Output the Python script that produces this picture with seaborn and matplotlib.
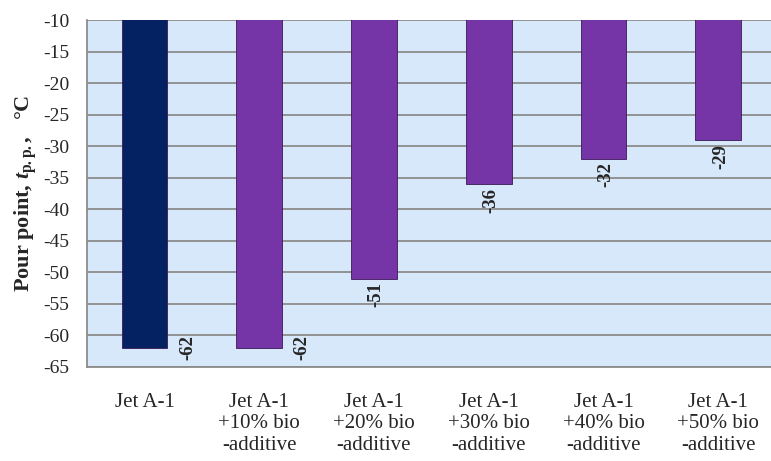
import matplotlib
matplotlib.use("Agg")
import matplotlib.pyplot as plt
import seaborn as sns

# chart data
categories = [
    "Jet A-1",
    "Jet A-1\n+10% bio\n-additive",
    "Jet A-1\n+20% bio\n-additive",
    "Jet A-1\n+30% bio\n-additive",
    "Jet A-1\n+40% bio\n-additive",
    "Jet A-1\n+50% bio\n-additive",
]
pour_point = [-62, -62, -51, -36, -32, -29]
bar_colors = ["#042262", "#7535A6", "#7535A6", "#7535A6", "#7535A6", "#7535A6"]
y_ticks = list(range(-65, -9, 5))

sns.set_style("white")
plt.rcParams["font.family"] = ["Liberation Serif", "DejaVu Serif"]
plt.rcParams["mathtext.fontset"] = "custom"
plt.rcParams["mathtext.it"] = "Liberation Serif:italic:bold"
plt.rcParams["mathtext.bf"] = "Liberation Serif:bold"
plt.rcParams["mathtext.rm"] = "Liberation Serif"

fig = plt.figure(figsize=(7.71, 4.61), dpi=100)
ax = fig.add_axes([0.113, 0.204, 0.893, 0.7526])
ax.set_facecolor("#D6E8FA")

sns.barplot(x=categories, y=pour_point, hue=categories, palette=bar_colors,
            saturation=1, legend=False, width=0.4, ax=ax,
            edgecolor="#3a1a55", linewidth=0.6, zorder=3)

ax.set_ylim(-65, -10)
ax.set_xlim(-0.5, 5.5)
ax.set_yticks(y_ticks)
ax.set_yticklabels([str(t) for t in y_ticks], fontsize=14)
ax.tick_params(axis="y", length=5, width=1, color="#8c8c8c", pad=8)
ax.tick_params(axis="x", length=0, pad=19, labelsize=15)
for lab in ax.get_xticklabels():
    lab.set_linespacing(1.15)
ax.yaxis.grid(True, color="#8c8c8c", linewidth=1.3, zorder=1)
ax.set_axisbelow(True)

for side in ["top", "right"]:
    ax.spines[side].set_visible(False)
for side in ["left", "bottom"]:
    ax.spines[side].set_color("#8c8c8c")
    ax.spines[side].set_linewidth(1.3)

ax.set_xlabel("")
ax.set_ylabel(r"Pour point, $\mathit{t}_{\mathbf{p.p.}}$,   °C", fontsize=16,
              fontweight="bold", labelpad=3)

# value labels: below the bar end, or beside it when there is no room
for i, v in enumerate(pour_point):
    if v - 5 < -65:
        ax.text(i + 0.375, v, str(v), rotation=90, ha="center", va="center",
                fontsize=13.5, fontweight="bold", zorder=4)
    else:
        ax.text(i + 0.02, v - 0.6, str(v), rotation=90, ha="center", va="top",
                fontsize=13.5, fontweight="bold", zorder=4)

fig.savefig("out.png", dpi=100)
